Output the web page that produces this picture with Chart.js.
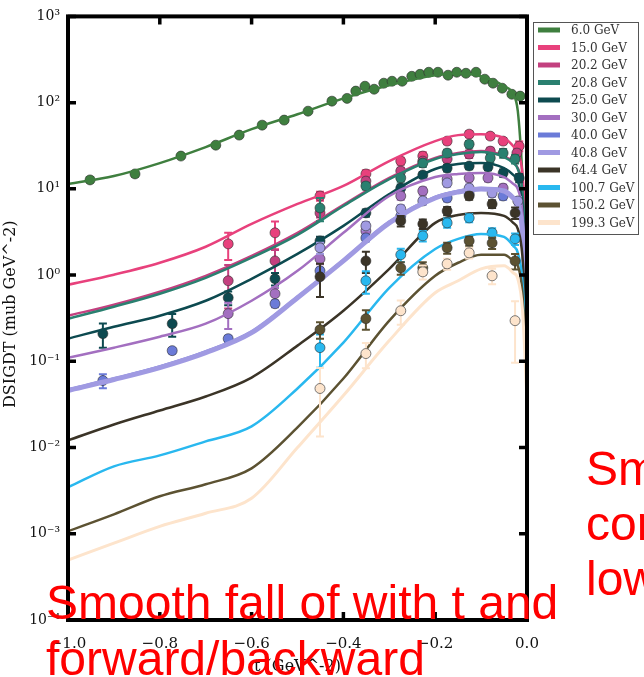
<!DOCTYPE html>
<html>
<head>
<meta charset="utf-8">
<script src="https://cdn.jsdelivr.net/npm/chart.js@4.4.1/dist/chart.umd.min.js"></script>
<style>
  html, body { margin: 0; padding: 0; background: #fff; overflow: hidden; }
  #wrap { position: relative; width: 644px; height: 677px; overflow: hidden; }
  #chart { position: absolute; left: 0; top: 0; }
  .note { position: absolute; color: #ff0000; font-family: "Liberation Sans", Arial, sans-serif; font-size: 48px; white-space: nowrap; }
</style>
</head>
<body>
<div id="wrap">
  <canvas id="chart" width="644" height="677"></canvas>
  <div class="note" style="left:46px; top:575px; line-height:56px;">Smooth fall of with t and<br>forward/backward</div>
  <div class="note" style="left:586px; top:441px; line-height:55px;">Sm<br>cor<br>low</div>
</div>
<script>
// Energies (legend) and colours
const energies = ["6.0 GeV", "15.0 GeV", "20.2 GeV", "20.8 GeV", "25.0 GeV", "30.0 GeV",
                  "40.0 GeV", "40.8 GeV", "64.4 GeV", "100.7 GeV", "150.2 GeV", "199.3 GeV"];
const colors = ["#3f7f3f", "#e8417c", "#c3407f", "#2a8070", "#0d4a50", "#a36fc0",
                "#6b7bd8", "#a09ae2", "#3b3427", "#29b8ef", "#5c5232", "#fde4cc"];

// Fit curves, sampled in t
const curveT = [-1.0, -0.9, -0.8, -0.7, -0.6, -0.5, -0.4, -0.3, -0.2, -0.15, -0.1, -0.05, -0.03, -0.02, -0.01, 0.0];
const curve6_0   = [11.4, 14.1, 19.9, 30.5, 49.2, 73.4, 112, 159, 207, 219, 202, 155, 125, 79.5, 14.1, 0.86];
const curve15_0  = [0.772, 1.01, 1.39, 2.13, 3.92, 6.68, 10.8, 21.0, 35.8, 42.0, 43.1, 38.8, 31.3, 26.0, 15.3, 1.91];
const curve20_2  = [0.338, 0.453, 0.641, 0.981, 1.67, 3.09, 6.51, 13.4, 22.8, 26.0, 27.4, 24.0, 20.5, 17.4, 9.96, 1.18];
const curve20_8  = [0.312, 0.430, 0.608, 0.930, 1.59, 2.93, 6.33, 13.0, 22.2, 25.3, 26.7, 23.4, 19.9, 17.0, 9.45, 1.12];
const curve25_0  = [0.183, 0.252, 0.338, 0.504, 0.906, 1.76, 3.72, 8.72, 17.0, 19.4, 19.9, 17.4, 14.5, 12.3, 6.33, 0.752];
const curve30_0  = [0.110, 0.144, 0.193, 0.273, 0.504, 1.12, 3.09, 8.27, 13.7, 14.9, 15.3, 13.7, 11.4, 9.96, 5.26, 0.504];
const curve40_0  = [0.0471, 0.0631, 0.0869, 0.130, 0.221, 0.561, 1.50, 4.14, 8.05, 9.45, 10.2, 9.70, 8.05, 6.86, 3.43, 0.312];
const curve40_8  = [0.0459, 0.0615, 0.0846, 0.126, 0.215, 0.546, 1.46, 4.03, 7.84, 9.20, 9.96, 9.45, 7.84, 6.68, 3.25, 0.296];
const curve64_4  = [0.0121, 0.0185, 0.0269, 0.0391, 0.0648, 0.152, 0.386, 1.18, 4.03, 4.98, 5.26, 4.85, 4.03, 3.43, 1.67, 0.174];
const curve100_7 = [0.00346, 0.00605, 0.00811, 0.0118, 0.0176, 0.0484, 0.165, 0.713, 2.01, 2.63, 3.00, 2.77, 2.18, 1.81, 0.859, 0.0781];
const curve150_2 = [0.00107, 0.00168, 0.00272, 0.00375, 0.00574, 0.0171, 0.0631, 0.296, 0.981, 1.39, 1.72, 1.72, 1.46, 1.28, 0.624, 0.0598];
const curve199_3 = [0.000495, 0.000778, 0.00122, 0.00173, 0.00258, 0.0100, 0.0401, 0.174, 0.624, 0.859, 1.18, 1.28, 1.06, 0.906, 0.407, 0.0351];

// Measured points: t, dsigma/dt, error
const t6_0   = [-0.952, -0.854, -0.754, -0.678, -0.627, -0.577, -0.529, -0.477, -0.425, -0.392, -0.373, -0.353, -0.333, -0.312, -0.294,
                -0.272, -0.251, -0.233, -0.214, -0.194, -0.172, -0.153, -0.133, -0.111, -0.092, -0.074, -0.054, -0.033, -0.015];
const y6_0   = [12.7, 14.9, 24.0, 32.1, 42, 54.8, 62.7, 79.6, 104, 112, 136, 155, 143, 168, 177,
                177, 202, 213, 225, 225, 208, 225, 219, 225, 187, 168, 147, 125, 119];
const err6_0 = [0.8, 1.0, 1.0, 1.3, 1.7, 2.2, 2.5, 3.2, 4, 4.5, 5, 6, 6, 7, 7,
                7, 8, 8, 9, 9, 8, 9, 9, 9, 8, 7, 6, 5, 5];

const t15_0   = [-0.651, -0.549, -0.451, -0.351, -0.275, -0.227, -0.174, -0.126, -0.080, -0.052, -0.017];
const y15_0   = [2.30, 3.09, 8.27, 14.9, 21.0, 24.0, 35.8, 43.1, 40.9, 35.8, 31.3];
const err15_0 = [0.8, 1.1, 1.0, 1.5, 2.0, 2.5, 3.0, 3.5, 3.0, 3.0, 4.0];

const t20_2   = [-0.651, -0.549, -0.451, -0.351, -0.275, -0.227, -0.174, -0.126, -0.080, -0.022];
const y20_2   = [0.859, 1.46, 5.26, 12.3, 16.1, 21.0, 22.2, 25.3, 27.4, 26.0];
const err20_2 = [0.45, 0.5, 0.6, 1.2, 1.5, 2.0, 2.0, 2.5, 2.5, 3.0];

const t20_8   = [-0.451, -0.351, -0.275, -0.227, -0.174, -0.126, -0.080, -0.052, -0.026];
const y20_8   = [6.01, 10.8, 13.4, 19.9, 26.0, 33.0, 22.8, 26.0, 22.2];
const err20_8 = [1.8, 1.0, 1.3, 2.0, 2.5, 3.0, 2.5, 3.0, 2.5];

const t25_0   = [-0.924, -0.773, -0.651, -0.549, -0.451, -0.351, -0.275, -0.227, -0.174, -0.126, -0.085, -0.052, -0.017];
const y25_0   = [0.209, 0.273, 0.546, 0.906, 2.49, 5.26, 10.2, 14.5, 17.4, 18.4, 17.9, 15.3, 13.4];
const err25_0 = [0.065, 0.08, 0.10, 0.15, 0.30, 0.50, 1.0, 1.2, 1.5, 1.5, 1.5, 1.5, 1.5];

const t30_0   = [-0.651, -0.549, -0.451, -0.351, -0.275, -0.227, -0.174, -0.126, -0.085, -0.052];
const y30_0   = [0.357, 0.608, 1.54, 3.25, 8.27, 9.45, 13.0, 13.4, 13.4, 10.2];
const err30_0 = [0.12, 0.10, 0.20, 0.40, 0.80, 0.90, 1.2, 1.2, 1.2, 1.0];

const t40_0   = [-0.924, -0.773, -0.651, -0.549, -0.451, -0.351, -0.275, -0.174, -0.126, -0.052];
const y40_0   = [0.0598, 0.133, 0.183, 0.465, 1.12, 2.70, 4.85, 7.84, 8.72, 8.27];
const err40_0 = [0.011, 0.010, 0.015, 0.04, 0.10, 0.25, 0.45, 0.7, 0.8, 0.8];

const t40_8   = [-0.451, -0.351, -0.275, -0.227, -0.174, -0.126, -0.076, -0.020];
const y40_8   = [2.07, 3.72, 5.85, 7.24, 11.7, 10.2, 8.96, 7.24];
const err40_8 = [0.3, 0.4, 0.6, 0.7, 1.1, 1.0, 0.9, 0.8];

const t64_4   = [-0.451, -0.351, -0.275, -0.227, -0.174, -0.126, -0.076, -0.026];
const y64_4   = [0.956, 1.46, 4.25, 3.92, 5.54, 8.27, 6.68, 5.26];
const err64_4 = [0.4, 0.4, 0.6, 0.5, 0.6, 0.8, 0.7, 0.8];

const t100_7   = [-0.451, -0.351, -0.275, -0.227, -0.174, -0.126, -0.076, -0.026];
const y100_7   = [0.144, 0.859, 1.72, 2.85, 4.03, 4.60, 3.09, 2.63];
const err100_7 = [0.06, 0.25, 0.30, 0.40, 0.50, 0.50, 0.40, 0.40];

const t150_2   = [-0.451, -0.351, -0.275, -0.227, -0.174, -0.126, -0.076, -0.026];
const y150_2   = [0.233, 0.312, 1.21, 1.21, 2.07, 2.49, 2.36, 1.46];
const err150_2 = [0.05, 0.08, 0.20, 0.20, 0.30, 0.30, 0.35, 0.30];

const t199_3   = [-0.451, -0.351, -0.275, -0.227, -0.174, -0.126, -0.076, -0.026];
const y199_3   = [0.0484, 0.123, 0.386, 1.09, 1.35, 1.81, 0.981, 0.296];
const err199_3 = [0.035, 0.04, 0.12, 0.20, 0.20, 0.25, 0.20, 0.20];

// Axis ticks
const xTicks = [-1.0, -0.8, -0.6, -0.4, -0.2, 0.0];
const yTicks = [1e-4, 1e-3, 1e-2, 1e-1, 1e0, 1e1, 1e2, 1e3];

const curves = [curve6_0, curve15_0, curve20_2, curve20_8, curve25_0, curve30_0,
                curve40_0, curve40_8, curve64_4, curve100_7, curve150_2, curve199_3];
const pointsT = [t6_0, t15_0, t20_2, t20_8, t25_0, t30_0, t40_0, t40_8, t64_4, t100_7, t150_2, t199_3];
const pointsY = [y6_0, y15_0, y20_2, y20_8, y25_0, y30_0, y40_0, y40_8, y64_4, y100_7, y150_2, y199_3];
const pointsErr = [err6_0, err15_0, err20_2, err20_8, err25_0, err30_0, err40_0, err40_8, err64_4, err100_7, err150_2, err199_3];

const serif = "'DejaVu Serif', serif";
const lineWidth = i => (i === 7 ? 5 : (i === 11 ? 3 : 2.5));

const datasets = [];
energies.forEach((label, i) => {
    datasets.push({
        label: label,
        type: "line",
        data: curveT.map((t, k) => ({ x: t, y: curves[i][k] })),
        borderColor: colors[i],
        borderWidth: lineWidth(i),
        pointRadius: 0,
        cubicInterpolationMode: "monotone",
        fill: false,
        order: 200 - 2 * i,
    });
    datasets.push({
        label: label + " data",
        type: "scatter",
        data: pointsT[i].map((t, k) => ({ x: t, y: pointsY[i][k] })),
        errors: pointsErr[i],
        errColor: colors[i],
        backgroundColor: colors[i],
        borderColor: i === 11 ? "rgba(90,90,90,0.8)" : "rgba(45,45,45,0.6)",
        borderWidth: 1,
        pointRadius: 5,
        showLine: false,
        order: 201 - 2 * i,
    });
});

const sup = { "-": "\u207B", "0": "\u2070", "1": "\u00B9", "2": "\u00B2", "3": "\u00B3", "4": "\u2074" };

// Error bars, drawn just before their own markers
const errorBars = {
    id: "errorBars",
    beforeDatasetDraw(chart, args) {
        const ds = chart.data.datasets[args.index];
        if (!ds.errors) return;
        const { ctx, chartArea, scales } = chart;
        ctx.save();
        ctx.beginPath();
        ctx.rect(chartArea.left, chartArea.top, chartArea.right - chartArea.left, chartArea.bottom - chartArea.top);
        ctx.clip();
        ctx.strokeStyle = ds.errColor;
        ctx.lineWidth = 2;
        ds.data.forEach((p, k) => {
            const e = ds.errors[k];
            const x = scales.x.getPixelForValue(p.x);
            const yHi = scales.y.getPixelForValue(p.y + e);
            const yLo = scales.y.getPixelForValue(Math.max(p.y - e, 1e-5));
            ctx.beginPath();
            ctx.moveTo(x, yHi); ctx.lineTo(x, yLo);
            ctx.moveTo(x - 4, yHi); ctx.lineTo(x + 4, yHi);
            ctx.moveTo(x - 4, yLo); ctx.lineTo(x + 4, yLo);
            ctx.stroke();
        });
        ctx.restore();
    }
};

// Frame, inward ticks, axis titles and legend box
const frame = {
    id: "frame",
    afterDraw(chart) {
        const { ctx, chartArea: a, scales } = chart;
        ctx.save();
        ctx.strokeStyle = "#000";
        ctx.lineWidth = 3.5;
        yTicks.forEach(v => {
            const y = scales.y.getPixelForValue(v);
            ctx.beginPath();
            ctx.moveTo(a.left, y); ctx.lineTo(a.left + 8, y);
            ctx.moveTo(a.right, y); ctx.lineTo(a.right - 8, y);
            ctx.stroke();
        });
        xTicks.forEach(v => {
            const x = scales.x.getPixelForValue(v);
            ctx.beginPath();
            ctx.moveTo(x, a.bottom); ctx.lineTo(x, a.bottom - 8);
            ctx.moveTo(x, a.top); ctx.lineTo(x, a.top + 8);
            ctx.stroke();
        });
        ctx.lineWidth = 4;
        ctx.strokeRect(a.left, a.top, a.right - a.left, a.bottom - a.top);

        // axis titles
        ctx.fillStyle = "#111";
        ctx.font = "16px " + serif;
        ctx.textAlign = "center";
        ctx.textBaseline = "middle";
        ctx.fillText("t (GeV^-2)", (a.left + a.right) / 2, 667);
        ctx.translate(11, (a.top + a.bottom) / 2 - 4);
        ctx.rotate(-Math.PI / 2);
        ctx.fillText("DSIGDT (mub GeV^-2)", 0, 0);
        ctx.restore();

        // legend
        ctx.save();
        ctx.fillStyle = "#fff";
        ctx.fillRect(533, 22, 106, 213);
        ctx.strokeStyle = "#555";
        ctx.lineWidth = 1;
        ctx.strokeRect(533.5, 22.5, 105, 212);
        ctx.font = "12px " + serif;
        ctx.textAlign = "left";
        ctx.textBaseline = "middle";
        energies.forEach((label, i) => {
            const y = 30 + 17.5 * i;
            ctx.strokeStyle = colors[i];
            ctx.lineWidth = 5;
            ctx.beginPath();
            ctx.moveTo(538, y); ctx.lineTo(560, y);
            ctx.stroke();
            ctx.fillStyle = "#333";
            ctx.fillText(label, 571, y + 1);
        });
        ctx.restore();
    }
};

new Chart(document.getElementById("chart").getContext("2d"), {
    type: "scatter",
    data: { datasets: datasets },
    options: {
        responsive: false,
        animation: false,
        devicePixelRatio: 1,
        layout: { padding: { left: 0, right: 117, top: 15, bottom: 0 } },
        plugins: { legend: { display: false }, tooltip: { enabled: false } },
        scales: {
            x: {
                type: "linear",
                min: -1,
                max: 0,
                grid: { display: false, drawTicks: false },
                border: { display: false },
                ticks: {
                    stepSize: 0.2,
                    maxRotation: 0,
                    padding: 15,
                    color: "#111",
                    font: { family: serif, size: 15 },
                    callback: v => {
                        const r = Math.round(v * 10) / 10;
                        return (r < 0 ? "\u2212" : "") + Math.abs(r).toFixed(1);
                    }
                },
                afterFit: s => { s.height = 57; }
            },
            y: {
                type: "logarithmic",
                min: 1e-4,
                max: 1e3,
                grid: { display: false, drawTicks: false },
                border: { display: false },
                afterBuildTicks: s => { s.ticks = yTicks.map(v => ({ value: v })); },
                ticks: {
                    autoSkip: false,
                    padding: 8,
                    color: "#111",
                    font: { family: serif, size: 14 },
                    callback: v => {
                        const e = Math.round(Math.log10(v));
                        return "10" + String(e).split("").map(c => sup[c]).join("");
                    }
                },
                afterFit: s => { s.width = 68; }
            }
        }
    },
    plugins: [errorBars, frame]
});
</script>
</body>
</html>
